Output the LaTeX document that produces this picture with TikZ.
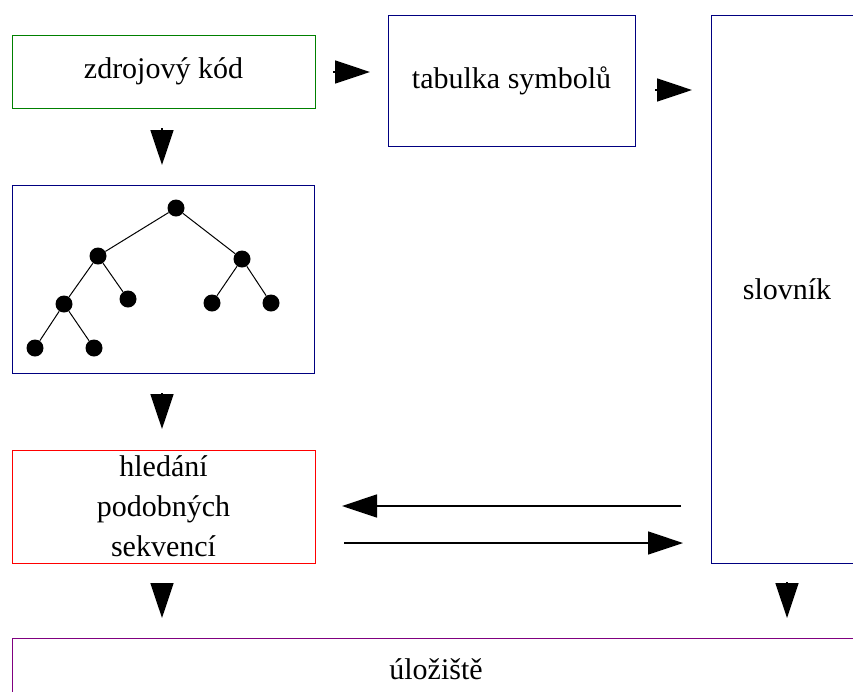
\documentclass[tikz,border=0pt]{standalone}
\usepackage{fontspec}
\setmainfont{Liberation Serif}
\usetikzlibrary{arrows.meta,positioning}
\definecolor{boxgreen}{RGB}{0,128,0}
\definecolor{boxblue}{RGB}{0,0,128}
\definecolor{boxred}{RGB}{255,0,0}
\definecolor{boxpurple}{RGB}{128,0,128}
\tikzset{
  block/.style={rectangle,draw,line width=1pt,inner sep=0pt,align=center,
    font=\fontsize{30}{40}\selectfont},
  flow/.style={line width=1.5pt,-{Triangle[length=35pt,width=23pt]}},
  leaf/.style={circle,fill=black,inner sep=0pt,minimum size=17pt}
}
\begin{document}
\begin{tikzpicture}[x=1pt,y=-1pt]
	\useasboundingbox (0,0) rectangle (853,691);
	\clip (0,0) rectangle (853,691);
		\begin{scope}[every node/.style={block}]
			\node[draw=boxgreen,minimum width=303pt,minimum height=73pt] (src) at (163.5,71.5) {zdrojový kód};
			\node[draw=boxblue,minimum width=247pt,minimum height=131pt] (symtab) at (511.5,80.5) {tabulka symbolů};
			\node[draw=boxblue,minimum width=152pt,minimum height=548pt] (dict) at (787,289) {slovník};
			\node[draw=boxblue,minimum width=302pt,minimum height=188pt] (tree) at (163,279) {};
			\node[draw=boxred,minimum width=303pt,minimum height=113pt] (search) at (163.5,506.5) {hledání\\podobných\\sekvencí};
			\node[draw=boxpurple,minimum width=848pt,minimum height=62pt] (store) at (436,669) {úložiště};
		\end{scope}
		% strom
		\begin{scope}[every node/.style={leaf}]
			\node (t0) at (176,208) {};
			\node (t1) at (98,256) {};
			\node (t2) at (242,259) {};
			\node (t3) at (64,304) {};
			\node (t4) at (128,299) {};
			\node (t5) at (212,303) {};
			\node (t6) at (271,303) {};
			\node (t7) at (35,348) {};
			\node (t8) at (94,348) {};
		\end{scope}
		\begin{scope}[every path/.style={line width=1pt}]
			\path (t0) edge (t1) edge (t2);
			\path (t1) edge (t3) edge (t4);
			\path (t2) edge (t5) edge (t6);
			\path (t3) edge (t7) edge (t8);
		\end{scope}
		% sipky
		\coordinate (a1s) at (333,72);   \coordinate (a1e) at (370,72);
		\coordinate (a2s) at (655,90);   \coordinate (a2e) at (692,90);
		\coordinate (d1s) at (162,128);  \coordinate (d1e) at (162,165);
		\coordinate (d2s) at (162,393);  \coordinate (d2e) at (162,429);
		\coordinate (d3s) at (162,583);  \coordinate (d3e) at (162,618);
		\coordinate (d4s) at (787,582);  \coordinate (d4e) at (787,618);
		\coordinate (bs) at (681,506);   \coordinate (be) at (342,506);
		\coordinate (fs) at (344,543);   \coordinate (fe) at (683,543);
		\draw[flow] (a1s) -- (a1e);
		\draw[flow] (a2s) -- (a2e);
		\draw[flow] (d1s) -- (d1e);
		\draw[flow] (d2s) -- (d2e);
		\draw[flow] (d3s) -- (d3e);
		\draw[flow] (d4s) -- (d4e);
		\draw[flow] (bs) -- (be);
		\draw[flow] (fs) -- (fe);
\end{tikzpicture}
\end{document}
